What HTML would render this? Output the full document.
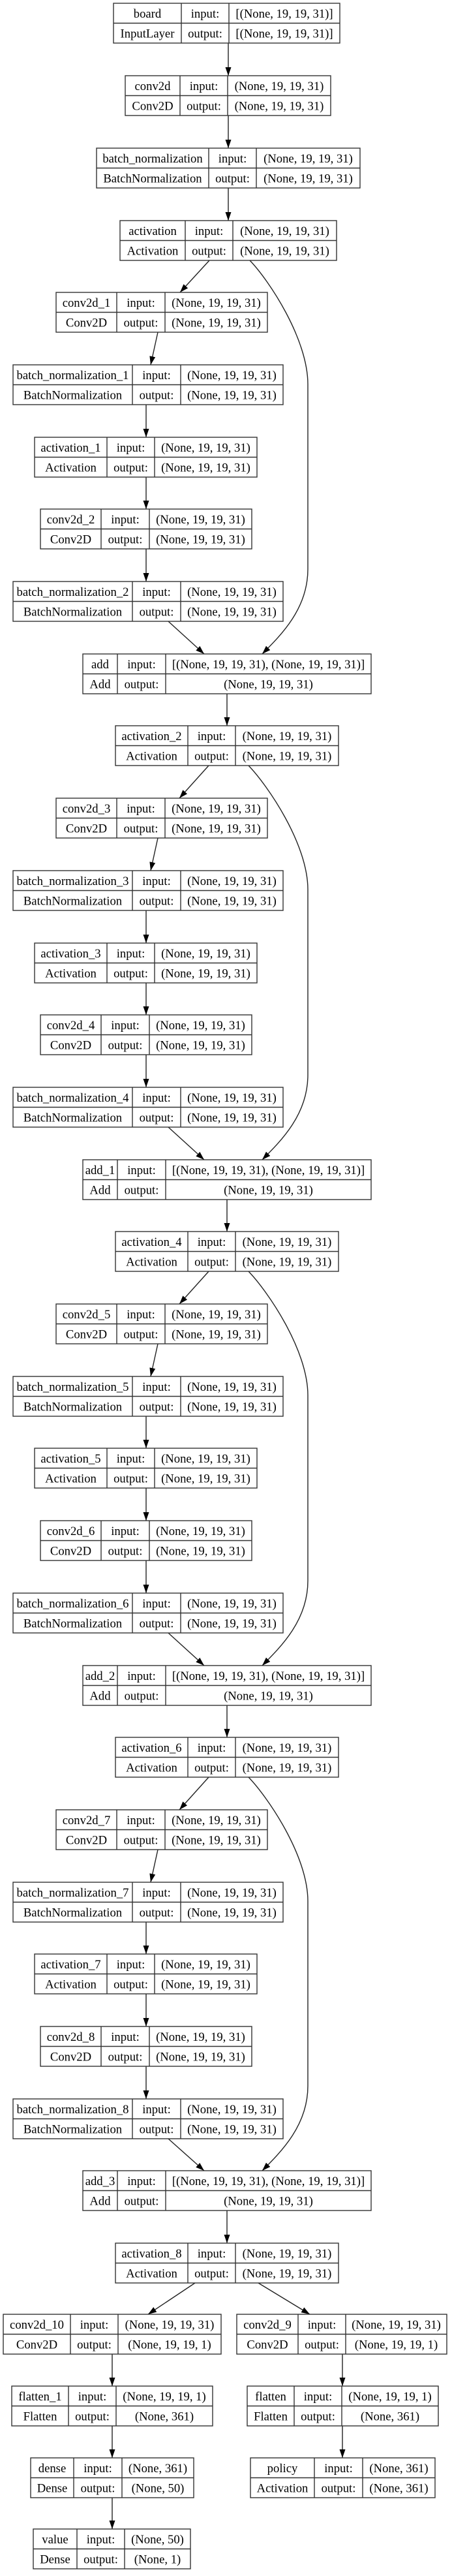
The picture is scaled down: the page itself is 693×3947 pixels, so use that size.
<!DOCTYPE html>
<html><head><meta charset="utf-8">
<style>
html,body{margin:0;padding:0;background:#fff;}
svg{display:block;}
.n rect,.n path{fill:none;stroke:#333;stroke-width:1.4;}
.n text{font-family:"Liberation Serif",serif;font-size:18.67px;text-anchor:middle;fill:#000;}
.e path{fill:none;stroke:#222;stroke-width:1.4;}
</style></head><body>
<svg width="693" height="3947" viewBox="0 0 693 3947" xmlns="http://www.w3.org/2000/svg">
<defs><marker id="a" markerUnits="userSpaceOnUse" markerWidth="13" markerHeight="10" refX="13" refY="5" orient="auto"><path d="M0,0.5 L13,5 L0,9.5 z" fill="#000"/></marker></defs>
<rect width="693" height="3947" fill="#fff"/>
<g class="e">
<path marker-end="url(#a)" d="M350,66 L350,116"/>
<path marker-end="url(#a)" d="M350,177 L350,227"/>
<path marker-end="url(#a)" d="M350,288 L350,338"/>
<path marker-end="url(#a)" d="M321,399 L276,448"/>
<path marker-end="url(#a)" d="M242,509 L231,559"/>
<path marker-end="url(#a)" d="M224,620 L224,670"/>
<path marker-end="url(#a)" d="M224,731 L224,780"/>
<path marker-end="url(#a)" d="M224,841 L224,891"/>
<path marker-end="url(#a)" d="M258,952 L313,1002"/>
<path marker-end="url(#a)" d="M348,1063 L348,1112"/>
<path marker-end="url(#a)" d="M383,399 C412,429 472,519 472,589 L472,872 C472,932 432,972 402,1002"/>
<path marker-end="url(#a)" d="M320,1173 L275,1223"/>
<path marker-end="url(#a)" d="M242,1284 L231,1334"/>
<path marker-end="url(#a)" d="M224,1395 L224,1445"/>
<path marker-end="url(#a)" d="M224,1506 L224,1555"/>
<path marker-end="url(#a)" d="M224,1616 L224,1666"/>
<path marker-end="url(#a)" d="M258,1727 L313,1777"/>
<path marker-end="url(#a)" d="M348,1838 L348,1887"/>
<path marker-end="url(#a)" d="M381,1173 C410,1203 472,1293 472,1363 L472,1647 C472,1707 432,1747 402,1777"/>
<path marker-end="url(#a)" d="M320,1948 L275,1998"/>
<path marker-end="url(#a)" d="M242,2059 L231,2109"/>
<path marker-end="url(#a)" d="M224,2170 L224,2219"/>
<path marker-end="url(#a)" d="M224,2280 L224,2330"/>
<path marker-end="url(#a)" d="M224,2391 L224,2441"/>
<path marker-end="url(#a)" d="M258,2502 L313,2552"/>
<path marker-end="url(#a)" d="M348,2613 L348,2662"/>
<path marker-end="url(#a)" d="M381,1948 C410,1978 472,2068 472,2138 L472,2422 C472,2482 432,2522 402,2552"/>
<path marker-end="url(#a)" d="M320,2723 L275,2773"/>
<path marker-end="url(#a)" d="M242,2834 L231,2884"/>
<path marker-end="url(#a)" d="M224,2945 L224,2994"/>
<path marker-end="url(#a)" d="M224,3055 L224,3105"/>
<path marker-end="url(#a)" d="M224,3166 L224,3216"/>
<path marker-end="url(#a)" d="M258,3277 L313,3326"/>
<path marker-end="url(#a)" d="M348,3387 L348,3437"/>
<path marker-end="url(#a)" d="M381,2723 C410,2753 472,2843 472,2913 L472,3196 C472,3256 432,3296 402,3326"/>
<path marker-end="url(#a)" d="M299,3498 L227,3546"/>
<path marker-end="url(#a)" d="M396,3498 L475,3546"/>
<path marker-end="url(#a)" d="M172,3607 L172,3656"/>
<path marker-end="url(#a)" d="M172,3717 L172,3766"/>
<path marker-end="url(#a)" d="M172,3827 L172,3875"/>
<path marker-end="url(#a)" d="M525,3607 L525,3656"/>
<path marker-end="url(#a)" d="M525,3717 L525,3766"/>
</g>

<g class="n">
<g transform="translate(0,5)"><rect x="174" y="0" width="347" height="61"/><path d="M174 30.5H521M278 0V61M351 0V61"/>
<text x="226" y="22">board</text><text x="226" y="52.5">InputLayer</text><text x="314.5" y="22">input:</text><text x="314.5" y="52.5">output:</text><text x="436" y="22">[(None, 19, 19, 31)]</text><text x="436" y="52.5">[(None, 19, 19, 31)]</text></g>
<g transform="translate(0,116)"><rect x="192" y="0" width="315" height="61"/><path d="M192 30.5H507M276 0V61M349 0V61"/>
<text x="234" y="22">conv2d</text><text x="234" y="52.5">Conv2D</text><text x="312.5" y="22">input:</text><text x="312.5" y="52.5">output:</text><text x="428" y="22">(None, 19, 19, 31)</text><text x="428" y="52.5">(None, 19, 19, 31)</text></g>
<g transform="translate(0,227)"><rect x="148" y="0" width="404" height="61"/><path d="M148 30.5H552M320 0V61M393 0V61"/>
<text x="234" y="22">batch_normalization</text><text x="234" y="52.5">BatchNormalization</text><text x="356.5" y="22">input:</text><text x="356.5" y="52.5">output:</text><text x="472.5" y="22">(None, 19, 19, 31)</text><text x="472.5" y="52.5">(None, 19, 19, 31)</text></g>
<g transform="translate(0,338)"><rect x="184" y="0" width="332" height="61"/><path d="M184 30.5H516M284 0V61M357 0V61"/>
<text x="234" y="22">activation</text><text x="234" y="52.5">Activation</text><text x="320.5" y="22">input:</text><text x="320.5" y="52.5">output:</text><text x="436.5" y="22">(None, 19, 19, 31)</text><text x="436.5" y="52.5">(None, 19, 19, 31)</text></g>

<g transform="translate(0,448)"><rect x="86" y="0" width="324" height="61"/><path d="M86 30.5H410M179 0V61M253 0V61"/>
<text x="132.5" y="22">conv2d_1</text><text x="132.5" y="52.5">Conv2D</text><text x="216" y="22">input:</text><text x="216" y="52.5">output:</text><text x="331.5" y="22">(None, 19, 19, 31)</text><text x="331.5" y="52.5">(None, 19, 19, 31)</text></g>
<g transform="translate(0,559)"><rect x="20" y="0" width="414" height="61"/><path d="M20 30.5H434M203 0V61M277 0V61"/>
<text x="111.5" y="22">batch_normalization_1</text><text x="111.5" y="52.5">BatchNormalization</text><text x="240" y="22">input:</text><text x="240" y="52.5">output:</text><text x="355.5" y="22">(None, 19, 19, 31)</text><text x="355.5" y="52.5">(None, 19, 19, 31)</text></g>
<g transform="translate(0,670)"><rect x="53" y="0" width="341" height="61"/><path d="M53 30.5H394M164 0V61M237 0V61"/>
<text x="108.5" y="22">activation_1</text><text x="108.5" y="52.5">Activation</text><text x="200.5" y="22">input:</text><text x="200.5" y="52.5">output:</text><text x="315.5" y="22">(None, 19, 19, 31)</text><text x="315.5" y="52.5">(None, 19, 19, 31)</text></g>
<g transform="translate(0,780)"><rect x="62" y="0" width="324" height="61"/><path d="M62 30.5H386M155 0V61M229 0V61"/>
<text x="108.5" y="22">conv2d_2</text><text x="108.5" y="52.5">Conv2D</text><text x="192" y="22">input:</text><text x="192" y="52.5">output:</text><text x="307.5" y="22">(None, 19, 19, 31)</text><text x="307.5" y="52.5">(None, 19, 19, 31)</text></g>
<g transform="translate(0,891)"><rect x="20" y="0" width="414" height="61"/><path d="M20 30.5H434M203 0V61M277 0V61"/>
<text x="111.5" y="22">batch_normalization_2</text><text x="111.5" y="52.5">BatchNormalization</text><text x="240" y="22">input:</text><text x="240" y="52.5">output:</text><text x="355.5" y="22">(None, 19, 19, 31)</text><text x="355.5" y="52.5">(None, 19, 19, 31)</text></g>
<g transform="translate(0,1002)"><rect x="127" y="0" width="442" height="61"/><path d="M127 30.5H569M180 0V61M254 0V61"/>
<text x="153.5" y="22">add</text><text x="153.5" y="52.5">Add</text><text x="217" y="22">input:</text><text x="217" y="52.5">output:</text><text x="411.5" y="22">[(None, 19, 19, 31), (None, 19, 19, 31)]</text><text x="411.5" y="52.5">(None, 19, 19, 31)</text></g>
<g transform="translate(0,1112)"><rect x="177" y="0" width="342" height="61"/><path d="M177 30.5H519M288 0V61M361 0V61"/>
<text x="232.5" y="22">activation_2</text><text x="232.5" y="52.5">Activation</text><text x="324.5" y="22">input:</text><text x="324.5" y="52.5">output:</text><text x="440" y="22">(None, 19, 19, 31)</text><text x="440" y="52.5">(None, 19, 19, 31)</text></g>

<g transform="translate(0,1223)"><rect x="86" y="0" width="324" height="61"/><path d="M86 30.5H410M179 0V61M253 0V61"/>
<text x="132.5" y="22">conv2d_3</text><text x="132.5" y="52.5">Conv2D</text><text x="216" y="22">input:</text><text x="216" y="52.5">output:</text><text x="331.5" y="22">(None, 19, 19, 31)</text><text x="331.5" y="52.5">(None, 19, 19, 31)</text></g>
<g transform="translate(0,1334)"><rect x="20" y="0" width="414" height="61"/><path d="M20 30.5H434M203 0V61M277 0V61"/>
<text x="111.5" y="22">batch_normalization_3</text><text x="111.5" y="52.5">BatchNormalization</text><text x="240" y="22">input:</text><text x="240" y="52.5">output:</text><text x="355.5" y="22">(None, 19, 19, 31)</text><text x="355.5" y="52.5">(None, 19, 19, 31)</text></g>
<g transform="translate(0,1445)"><rect x="53" y="0" width="341" height="61"/><path d="M53 30.5H394M164 0V61M237 0V61"/>
<text x="108.5" y="22">activation_3</text><text x="108.5" y="52.5">Activation</text><text x="200.5" y="22">input:</text><text x="200.5" y="52.5">output:</text><text x="315.5" y="22">(None, 19, 19, 31)</text><text x="315.5" y="52.5">(None, 19, 19, 31)</text></g>
<g transform="translate(0,1555)"><rect x="62" y="0" width="324" height="61"/><path d="M62 30.5H386M155 0V61M229 0V61"/>
<text x="108.5" y="22">conv2d_4</text><text x="108.5" y="52.5">Conv2D</text><text x="192" y="22">input:</text><text x="192" y="52.5">output:</text><text x="307.5" y="22">(None, 19, 19, 31)</text><text x="307.5" y="52.5">(None, 19, 19, 31)</text></g>
<g transform="translate(0,1666)"><rect x="20" y="0" width="414" height="61"/><path d="M20 30.5H434M203 0V61M277 0V61"/>
<text x="111.5" y="22">batch_normalization_4</text><text x="111.5" y="52.5">BatchNormalization</text><text x="240" y="22">input:</text><text x="240" y="52.5">output:</text><text x="355.5" y="22">(None, 19, 19, 31)</text><text x="355.5" y="52.5">(None, 19, 19, 31)</text></g>
<g transform="translate(0,1777)"><rect x="127" y="0" width="442" height="61"/><path d="M127 30.5H569M180 0V61M254 0V61"/>
<text x="153.5" y="22">add_1</text><text x="153.5" y="52.5">Add</text><text x="217" y="22">input:</text><text x="217" y="52.5">output:</text><text x="411.5" y="22">[(None, 19, 19, 31), (None, 19, 19, 31)]</text><text x="411.5" y="52.5">(None, 19, 19, 31)</text></g>
<g transform="translate(0,1887)"><rect x="177" y="0" width="342" height="61"/><path d="M177 30.5H519M288 0V61M361 0V61"/>
<text x="232.5" y="22">activation_4</text><text x="232.5" y="52.5">Activation</text><text x="324.5" y="22">input:</text><text x="324.5" y="52.5">output:</text><text x="440" y="22">(None, 19, 19, 31)</text><text x="440" y="52.5">(None, 19, 19, 31)</text></g>

<g transform="translate(0,1998)"><rect x="86" y="0" width="324" height="61"/><path d="M86 30.5H410M179 0V61M253 0V61"/>
<text x="132.5" y="22">conv2d_5</text><text x="132.5" y="52.5">Conv2D</text><text x="216" y="22">input:</text><text x="216" y="52.5">output:</text><text x="331.5" y="22">(None, 19, 19, 31)</text><text x="331.5" y="52.5">(None, 19, 19, 31)</text></g>
<g transform="translate(0,2109)"><rect x="20" y="0" width="414" height="61"/><path d="M20 30.5H434M203 0V61M277 0V61"/>
<text x="111.5" y="22">batch_normalization_5</text><text x="111.5" y="52.5">BatchNormalization</text><text x="240" y="22">input:</text><text x="240" y="52.5">output:</text><text x="355.5" y="22">(None, 19, 19, 31)</text><text x="355.5" y="52.5">(None, 19, 19, 31)</text></g>
<g transform="translate(0,2219)"><rect x="53" y="0" width="341" height="61"/><path d="M53 30.5H394M164 0V61M237 0V61"/>
<text x="108.5" y="22">activation_5</text><text x="108.5" y="52.5">Activation</text><text x="200.5" y="22">input:</text><text x="200.5" y="52.5">output:</text><text x="315.5" y="22">(None, 19, 19, 31)</text><text x="315.5" y="52.5">(None, 19, 19, 31)</text></g>
<g transform="translate(0,2330)"><rect x="62" y="0" width="324" height="61"/><path d="M62 30.5H386M155 0V61M229 0V61"/>
<text x="108.5" y="22">conv2d_6</text><text x="108.5" y="52.5">Conv2D</text><text x="192" y="22">input:</text><text x="192" y="52.5">output:</text><text x="307.5" y="22">(None, 19, 19, 31)</text><text x="307.5" y="52.5">(None, 19, 19, 31)</text></g>
<g transform="translate(0,2441)"><rect x="20" y="0" width="414" height="61"/><path d="M20 30.5H434M203 0V61M277 0V61"/>
<text x="111.5" y="22">batch_normalization_6</text><text x="111.5" y="52.5">BatchNormalization</text><text x="240" y="22">input:</text><text x="240" y="52.5">output:</text><text x="355.5" y="22">(None, 19, 19, 31)</text><text x="355.5" y="52.5">(None, 19, 19, 31)</text></g>
<g transform="translate(0,2552)"><rect x="127" y="0" width="442" height="61"/><path d="M127 30.5H569M180 0V61M254 0V61"/>
<text x="153.5" y="22">add_2</text><text x="153.5" y="52.5">Add</text><text x="217" y="22">input:</text><text x="217" y="52.5">output:</text><text x="411.5" y="22">[(None, 19, 19, 31), (None, 19, 19, 31)]</text><text x="411.5" y="52.5">(None, 19, 19, 31)</text></g>
<g transform="translate(0,2662)"><rect x="177" y="0" width="342" height="61"/><path d="M177 30.5H519M288 0V61M361 0V61"/>
<text x="232.5" y="22">activation_6</text><text x="232.5" y="52.5">Activation</text><text x="324.5" y="22">input:</text><text x="324.5" y="52.5">output:</text><text x="440" y="22">(None, 19, 19, 31)</text><text x="440" y="52.5">(None, 19, 19, 31)</text></g>

<g transform="translate(0,2773)"><rect x="86" y="0" width="324" height="61"/><path d="M86 30.5H410M179 0V61M253 0V61"/>
<text x="132.5" y="22">conv2d_7</text><text x="132.5" y="52.5">Conv2D</text><text x="216" y="22">input:</text><text x="216" y="52.5">output:</text><text x="331.5" y="22">(None, 19, 19, 31)</text><text x="331.5" y="52.5">(None, 19, 19, 31)</text></g>
<g transform="translate(0,2884)"><rect x="20" y="0" width="414" height="61"/><path d="M20 30.5H434M203 0V61M277 0V61"/>
<text x="111.5" y="22">batch_normalization_7</text><text x="111.5" y="52.5">BatchNormalization</text><text x="240" y="22">input:</text><text x="240" y="52.5">output:</text><text x="355.5" y="22">(None, 19, 19, 31)</text><text x="355.5" y="52.5">(None, 19, 19, 31)</text></g>
<g transform="translate(0,2994)"><rect x="53" y="0" width="341" height="61"/><path d="M53 30.5H394M164 0V61M237 0V61"/>
<text x="108.5" y="22">activation_7</text><text x="108.5" y="52.5">Activation</text><text x="200.5" y="22">input:</text><text x="200.5" y="52.5">output:</text><text x="315.5" y="22">(None, 19, 19, 31)</text><text x="315.5" y="52.5">(None, 19, 19, 31)</text></g>
<g transform="translate(0,3105)"><rect x="62" y="0" width="324" height="61"/><path d="M62 30.5H386M155 0V61M229 0V61"/>
<text x="108.5" y="22">conv2d_8</text><text x="108.5" y="52.5">Conv2D</text><text x="192" y="22">input:</text><text x="192" y="52.5">output:</text><text x="307.5" y="22">(None, 19, 19, 31)</text><text x="307.5" y="52.5">(None, 19, 19, 31)</text></g>
<g transform="translate(0,3216)"><rect x="20" y="0" width="414" height="61"/><path d="M20 30.5H434M203 0V61M277 0V61"/>
<text x="111.5" y="22">batch_normalization_8</text><text x="111.5" y="52.5">BatchNormalization</text><text x="240" y="22">input:</text><text x="240" y="52.5">output:</text><text x="355.5" y="22">(None, 19, 19, 31)</text><text x="355.5" y="52.5">(None, 19, 19, 31)</text></g>
<g transform="translate(0,3326)"><rect x="127" y="0" width="442" height="61"/><path d="M127 30.5H569M180 0V61M254 0V61"/>
<text x="153.5" y="22">add_3</text><text x="153.5" y="52.5">Add</text><text x="217" y="22">input:</text><text x="217" y="52.5">output:</text><text x="411.5" y="22">[(None, 19, 19, 31), (None, 19, 19, 31)]</text><text x="411.5" y="52.5">(None, 19, 19, 31)</text></g>
<g transform="translate(0,3437)"><rect x="177" y="0" width="342" height="61"/><path d="M177 30.5H519M288 0V61M361 0V61"/>
<text x="232.5" y="22">activation_8</text><text x="232.5" y="52.5">Activation</text><text x="324.5" y="22">input:</text><text x="324.5" y="52.5">output:</text><text x="440" y="22">(None, 19, 19, 31)</text><text x="440" y="52.5">(None, 19, 19, 31)</text></g>

<g transform="translate(0,3546)"><rect x="5" y="0" width="334" height="61"/><path d="M5 30.5H339M108 0V61M181 0V61"/>
<text x="56.5" y="22">conv2d_10</text><text x="56.5" y="52.5">Conv2D</text><text x="144.5" y="22">input:</text><text x="144.5" y="52.5">output:</text><text x="260" y="22">(None, 19, 19, 31)</text><text x="260" y="52.5">(None, 19, 19, 1)</text></g>
<g transform="translate(0,3656)"><rect x="18" y="0" width="308" height="61"/><path d="M18 30.5H326M105 0V61M178 0V61"/>
<text x="61.5" y="22">flatten_1</text><text x="61.5" y="52.5">Flatten</text><text x="141.5" y="22">input:</text><text x="141.5" y="52.5">output:</text><text x="252" y="22">(None, 19, 19, 1)</text><text x="252" y="52.5">(None, 361)</text></g>
<g transform="translate(0,3766)"><rect x="47" y="0" width="250" height="61"/><path d="M47 30.5H297M113 0V61M187 0V61"/>
<text x="80" y="22">dense</text><text x="80" y="52.5">Dense</text><text x="150" y="22">input:</text><text x="150" y="52.5">output:</text><text x="242" y="22">(None, 361)</text><text x="242" y="52.5">(None, 50)</text></g>
<g transform="translate(0,3875)"><rect x="51" y="0" width="241" height="61"/><path d="M51 30.5H292M118 0V61M191 0V61"/>
<text x="84.5" y="22">value</text><text x="84.5" y="52.5">Dense</text><text x="154.5" y="22">input:</text><text x="154.5" y="52.5">output:</text><text x="241.5" y="22">(None, 50)</text><text x="241.5" y="52.5">(None, 1)</text></g>

<g transform="translate(0,3546)"><rect x="363" y="0" width="322" height="61"/><path d="M363 30.5H685M457 0V61M530 0V61"/>
<text x="410" y="22">conv2d_9</text><text x="410" y="52.5">Conv2D</text><text x="493.5" y="22">input:</text><text x="493.5" y="52.5">output:</text><text x="607.5" y="22">(None, 19, 19, 31)</text><text x="607.5" y="52.5">(None, 19, 19, 1)</text></g>
<g transform="translate(0,3656)"><rect x="379" y="0" width="293" height="61"/><path d="M379 30.5H672M451 0V61M524 0V61"/>
<text x="415" y="22">flatten</text><text x="415" y="52.5">Flatten</text><text x="487.5" y="22">input:</text><text x="487.5" y="52.5">output:</text><text x="598" y="22">(None, 19, 19, 1)</text><text x="598" y="52.5">(None, 361)</text></g>
<g transform="translate(0,3766)"><rect x="384" y="0" width="283" height="61"/><path d="M384 30.5H667M482 0V61M556 0V61"/>
<text x="433" y="22">policy</text><text x="433" y="52.5">Activation</text><text x="519" y="22">input:</text><text x="519" y="52.5">output:</text><text x="611.5" y="22">(None, 361)</text><text x="611.5" y="52.5">(None, 361)</text></g>
</g>
</svg>
</body></html>
